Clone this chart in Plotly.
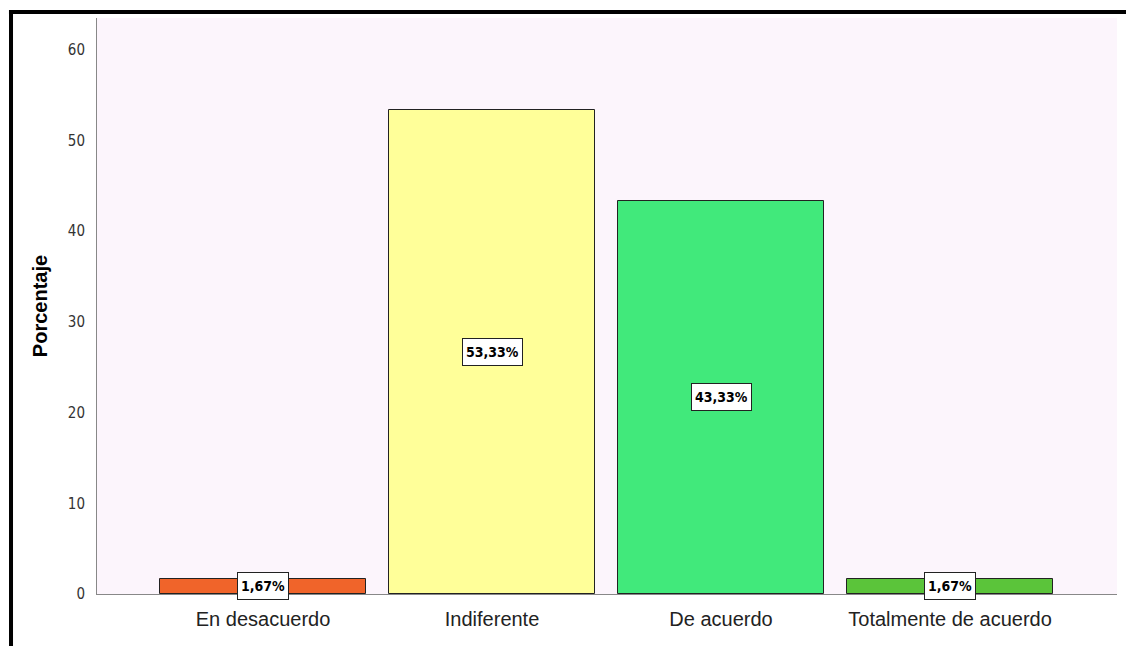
import plotly.graph_objects as go

categories = ["En desacuerdo", "Indiferente", "De acuerdo", "Totalmente de acuerdo"]
percentages = [1.67, 53.33, 43.33, 1.67]
labels = ["1,67%", "53,33%", "43,33%", "1,67%"]
bar_colors = ["#F0642A", "#FFFF99", "#41E97B", "#5BC43A"]
y_ticks = [0, 10, 20, 30, 40, 50, 60]

NARROW = "DejaVu Sans Condensed, Liberation Sans Narrow, Arial Narrow, Liberation Sans, sans-serif"

fig = go.Figure()
fig.add_trace(go.Bar(
    x=list(range(len(categories))),
    y=percentages,
    width=0.9,
    marker=dict(color=bar_colors, line=dict(color="#222222", width=1)),
    hoverinfo="skip",
))

for i, (v, t) in enumerate(zip(percentages, labels)):
    fig.add_annotation(
        x=i, y=v / 2, xref="x", yref="y", text=f"<b>{t}</b>", showarrow=False,
        font=dict(family=NARROW, size=14, color="#000"),
        bgcolor="white", bordercolor="#222", borderwidth=1, borderpad=3,
        height=20,
    )

# outer frame lines (left and top)
fig.add_shape(type="line", xref="paper", yref="paper", x0=-0.0843, x1=-0.0843, y0=1.0104, y1=-0.1,
              line=dict(color="black", width=4))
fig.add_shape(type="line", xref="paper", yref="paper", x0=-0.0863, x1=1.01, y0=1.0104, y1=1.0104,
              line=dict(color="black", width=4))

fig.update_layout(
    width=1126, height=646,
    margin=dict(l=97, r=9, t=18, b=52),
    paper_bgcolor="white",
    plot_bgcolor="#FCF5FC",
    showlegend=False,
    bargap=0,
    xaxis=dict(
        range=[-0.725, 3.729],
        tickmode="array", tickvals=list(range(len(categories))), ticktext=categories,
        tickfont=dict(family="Liberation Sans, Arial, sans-serif", size=20, color="#222"),
        showgrid=False, zeroline=False, showline=True, linecolor="#888", linewidth=1,
        ticks="", ticklabelstandoff=7,
    ),
    yaxis=dict(
        range=[0, 63.5],
        tickmode="array", tickvals=y_ticks,
        tickfont=dict(family=NARROW, size=15, color="#333"),
        showgrid=False, zeroline=False, showline=True, linecolor="#888", linewidth=1,
        ticks="", ticklabelstandoff=8,
        title=dict(text="<b>Porcentaje</b>", font=dict(family="Liberation Sans, Arial, sans-serif", size=20, color="#000"), standoff=14),
    ),
)

fig.write_html("out.html", config={"displayModeBar": False},
               post_script="document.body.style.margin='0';document.body.style.overflow='hidden';")
